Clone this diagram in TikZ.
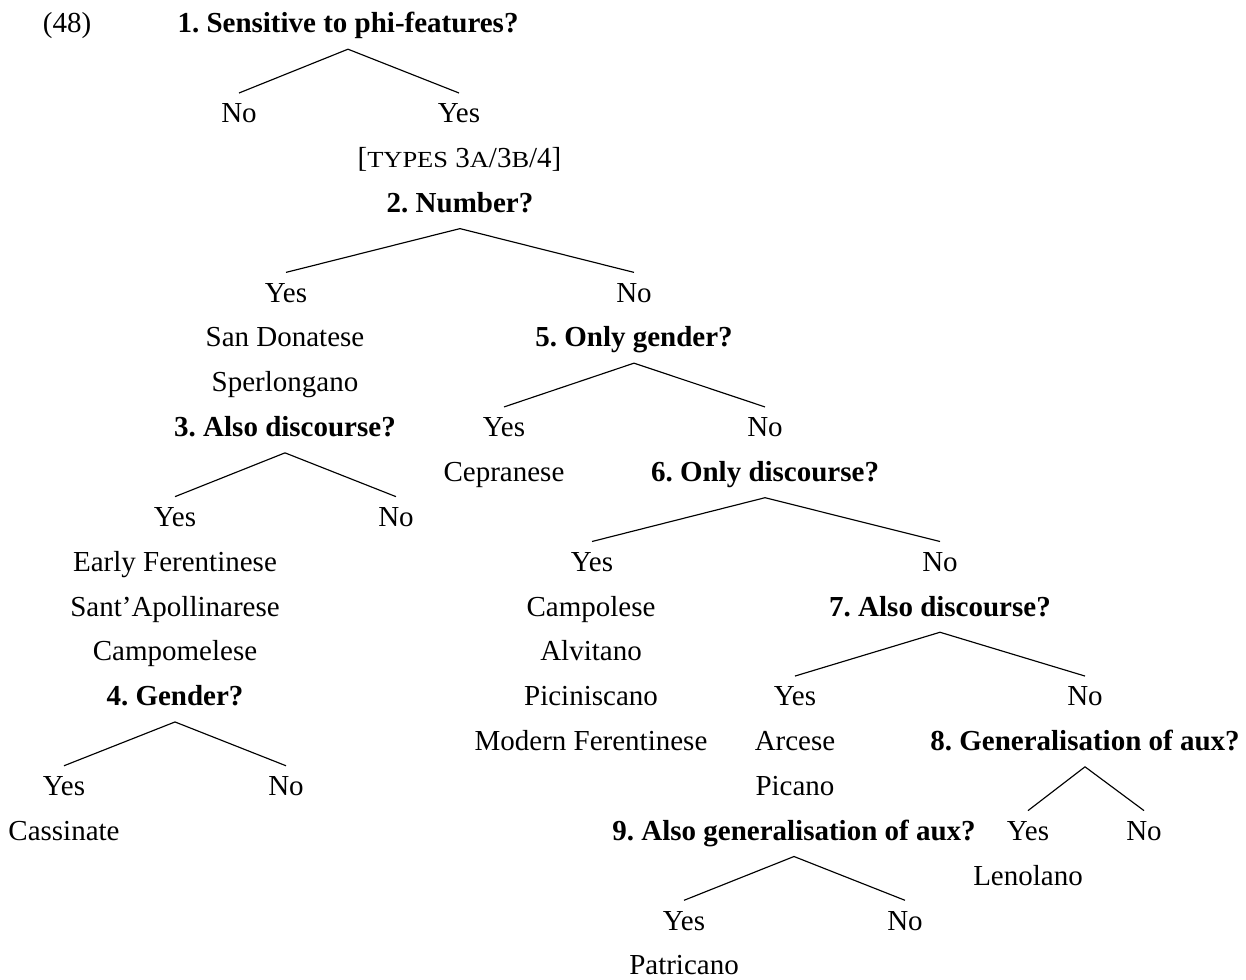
\documentclass[tikz,border=0pt]{standalone}
\usepackage{fontspec}
\setmainfont{Liberation Serif}
\newfontfamily\scf[FakeStretch=1.15]{Liberation Serif}
\newcommand\fsc[1]{{\scf\fontsize{23}{26}\selectfont #1}}
\frenchspacing
\begin{document}
\begin{tikzpicture}[x=1pt,y=-1pt,
  lab/.style={anchor=base,inner sep=0pt,text height=20pt,text depth=6pt,font=\fontsize{29}{35}\selectfont},
  ttl/.style={lab,font=\fontsize{29}{35}\selectfont\bfseries},
  br/.style={line width=1.15pt}]
\useasboundingbox (0,0) rectangle (1246,979);
\def\r#1{\fpeval{33+44.85*#1}}
\newcommand\brn[2]{\draw[br] ([yshift=-10pt]#1.south) -- ([yshift=9.5pt]#2.north);}
% header
\node[lab] (ex) at (67,\r{0}) {(48)};
\node[ttl] (t1) at (348,\r{0}) {1. Sensitive to phi-features?};
\node[lab] (t1n) at (239,\r{2}) {No};
\node[lab] (t1y) at (459,\r{2}) {Yes};
\node[lab] (types) at (459.5,\r{3}) {[\fsc{TYPES} 3\fsc{A}/3\fsc{B}/4]};
\node[ttl] (t2) at (460,\r{4}) {2. Number?};
\node[lab] (t2y) at (286,\r{6}) {Yes};
\node[lab] (t2n) at (634,\r{6}) {No};
\node[lab] (sd) at (285,\r{7}) {San Donatese};
\node[lab] (sp) at (285,\r{8}) {Sperlongano};
\node[ttl] (t3) at (285,\r{9}) {3. Also discourse?};
\node[lab] (t3y) at (175,\r{11}) {Yes};
\node[lab] (t3n) at (396,\r{11}) {No};
\node[lab] (ef) at (175,\r{12}) {Early Ferentinese};
\node[lab] (sa) at (175,\r{13}) {Sant’Apollinarese};
\node[lab] (cm) at (175,\r{14}) {Campomelese};
\node[ttl] (t4) at (175,\r{15}) {4. Gender?};
\node[lab] (t4y) at (64,\r{17}) {Yes};
\node[lab] (t4n) at (286,\r{17}) {No};
\node[lab] (cs) at (64,\r{18}) {Cassinate};
\node[ttl] (t5) at (634,\r{7}) {5. Only gender?};
\node[lab] (t5y) at (504,\r{9}) {Yes};
\node[lab] (t5n) at (765,\r{9}) {No};
\node[lab] (cp) at (504,\r{10}) {Cepranese};
\node[ttl] (t6) at (765,\r{10}) {6. Only discourse?};
\node[lab] (t6y) at (592,\r{12}) {Yes};
\node[lab] (t6n) at (940,\r{12}) {No};
\node[lab] (cl) at (591,\r{13}) {Campolese};
\node[lab] (al) at (591,\r{14}) {Alvitano};
\node[lab] (pc) at (591,\r{15}) {Piciniscano};
\node[lab] (mf) at (591,\r{16}) {Modern Ferentinese};
\node[ttl] (t7) at (940,\r{13}) {7. Also discourse?};
\node[lab] (t7y) at (795,\r{15}) {Yes};
\node[lab] (t7n) at (1085,\r{15}) {No};
\node[lab] (ar) at (795,\r{16}) {Arcese};
\node[lab] (pi) at (795,\r{17}) {Picano};
\node[ttl] (t8) at (1085,\r{16}) {8. Generalisation of aux?};
\node[lab] (t8y) at (1028,\r{18}) {Yes};
\node[lab] (t8n) at (1144,\r{18}) {No};
\node[lab] (ln) at (1028,\r{19}) {Lenolano};
\node[ttl] (t9) at (794,\r{18}) {9. Also generalisation of aux?};
\node[lab] (t9y) at (684,\r{20}) {Yes};
\node[lab] (t9n) at (905,\r{20}) {No};
\node[lab] (pt) at (684,\r{21}) {Patricano};
% branches
\brn{t1}{t1n}\brn{t1}{t1y}
\brn{t2}{t2y}\brn{t2}{t2n}
\brn{t3}{t3y}\brn{t3}{t3n}
\brn{t4}{t4y}\brn{t4}{t4n}
\brn{t5}{t5y}\brn{t5}{t5n}
\brn{t6}{t6y}\brn{t6}{t6n}
\brn{t7}{t7y}\brn{t7}{t7n}
\brn{t8}{t8y}\brn{t8}{t8n}
\brn{t9}{t9y}\brn{t9}{t9n}
\end{tikzpicture}
\end{document}
